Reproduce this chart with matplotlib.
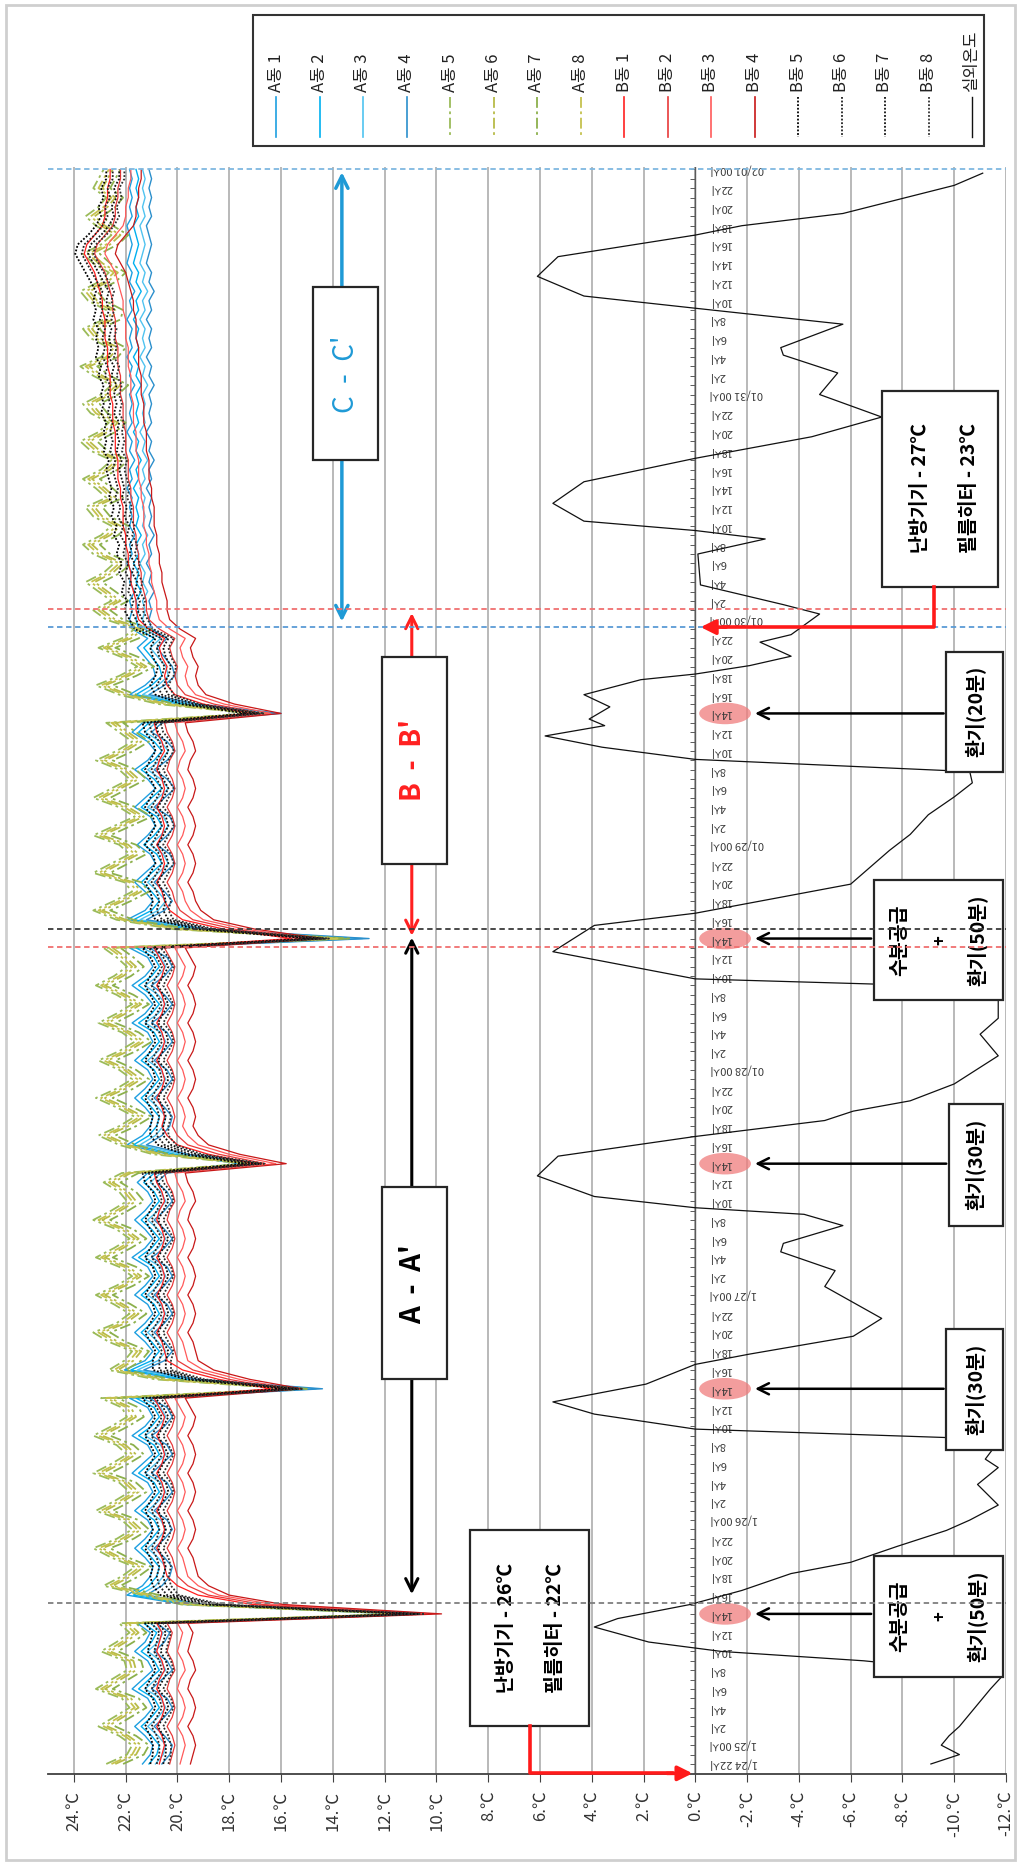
import matplotlib
matplotlib.use("Agg")
import matplotlib.pyplot as plt
from matplotlib.patches import Rectangle, Ellipse

plt.rcParams["font.family"] = ["Noto Sans CJK KR", "DejaVu Sans"]

# hours counted from 1/24 22시 (0) to 02/01 00시 (170)
hours = list(range(171))

# group profiles, hourly: 1/24 22-23시, one row per day (00..23시), 02/01 00시
a_blue = [
    21.0, 20.7,
    20.6, 20.9, 21.3, 20.9, 20.6, 20.8, 21.4, 21.0, 20.6, 20.8, 21.3, 20.9, 20.7, 21.2, 11.2, 19.4, 21.6, 21.0, 20.7, 20.6, 20.9, 21.3, 20.9, 20.6,
    20.8, 21.3, 20.9, 20.6, 20.8, 21.4, 21.0, 20.6, 20.8, 21.4, 20.9, 20.6, 20.8, 21.5, 14.8, 19.6, 21.7, 20.9, 20.6, 20.9, 21.3, 20.9, 20.6, 20.8,
    21.3, 20.9, 20.6, 20.8, 21.4, 20.9, 20.6, 20.9, 21.3, 20.9, 20.6, 20.8, 21.2, 20.8, 17.2, 20.0, 21.6, 21.0, 20.7, 20.6, 20.9, 21.3, 20.9, 20.6,
    20.8, 21.3, 20.9, 20.6, 20.8, 21.4, 20.9, 20.6, 20.9, 21.4, 20.9, 20.6, 20.8, 21.5, 13.0, 19.2, 21.6, 20.9, 20.6, 20.9, 21.3, 20.9, 20.5, 20.7,
    21.2, 20.8, 20.5, 20.7, 21.3, 20.9, 20.5, 20.8, 21.3, 20.8, 20.5, 20.8, 21.4, 21.0, 16.4, 19.6, 21.5, 20.9, 20.5, 20.6, 20.9, 21.2, 20.8, 21.4,
    21.5, 21.4, 21.5, 21.3, 21.5, 21.4, 21.6, 21.4, 21.5, 21.3, 21.5, 21.4, 21.5, 21.4, 21.6, 21.4, 21.5, 21.3, 21.5, 21.4, 21.6, 21.4, 21.5, 21.4,
    21.5, 21.3, 21.5, 21.4, 21.6, 21.4, 21.5, 21.4, 21.6, 21.4, 21.5, 21.3, 21.5, 21.4, 21.6, 21.5, 21.4, 21.5, 21.6, 21.4, 21.5, 21.4, 21.5, 21.4,
    21.5,
]
a_olive = [
    22.4, 21.6,
    21.4, 21.9, 22.7, 22.1, 21.5, 21.8, 22.8, 22.2, 21.6, 21.7, 22.6, 22.0, 21.5, 21.9, 11.0, 19.5, 21.0, 22.5, 21.8, 21.3, 22.2, 22.9, 22.0, 21.4,
    21.8, 22.8, 22.1, 21.5, 21.9, 22.9, 22.2, 21.6, 22.0, 22.9, 22.2, 21.6, 21.8, 22.6, 15.3, 20.5, 22.3, 21.7, 21.4, 22.3, 22.9, 22.0, 21.5, 22.1,
    22.8, 22.0, 21.4, 21.9, 22.8, 22.1, 21.5, 22.0, 22.9, 22.2, 21.6, 21.9, 22.5, 21.8, 17.0, 20.6, 21.9, 22.7, 21.9, 21.3, 22.0, 22.8, 22.0, 21.4,
    21.9, 22.7, 21.9, 21.3, 21.8, 22.7, 22.0, 21.4, 22.0, 22.8, 22.1, 21.6, 22.0, 22.5, 13.6, 19.8, 22.0, 22.9, 22.1, 21.4, 21.7, 22.9, 22.2, 21.5,
    21.9, 22.9, 22.1, 21.3, 21.9, 22.9, 22.2, 21.5, 21.9, 22.8, 22.0, 21.4, 21.9, 22.4, 16.8, 20.4, 21.9, 22.8, 21.9, 21.2, 21.8, 22.7, 21.8, 21.3,
    22.4, 22.9, 22.2, 22.7, 23.2, 22.5, 22.1, 22.9, 23.3, 22.6, 22.2, 22.9, 23.2, 22.4, 22.8, 23.3, 22.6, 22.2, 23.0, 23.4, 22.7, 22.3, 23.0, 23.3,
    22.6, 22.2, 22.9, 23.4, 22.6, 22.3, 23.0, 23.3, 22.5, 22.4, 23.1, 23.4, 22.7, 22.3, 22.9, 23.3, 22.6, 22.2, 22.8, 23.2, 22.7, 22.4, 22.9, 22.7,
    22.5,
]
b_red = [
    20.1, 20.0,
    19.9, 20.0, 20.2, 20.0, 19.9, 20.0, 20.2, 20.1, 19.9, 20.0, 20.2, 20.1, 20.0, 20.2, 10.4, 16.5, 18.6, 19.4, 19.8, 19.9, 20.0, 20.2, 20.0, 19.9,
    20.0, 20.2, 20.0, 19.9, 20.0, 20.2, 20.0, 19.9, 20.0, 20.2, 20.0, 19.9, 20.1, 20.3, 15.8, 17.8, 19.2, 19.8, 19.9, 20.0, 20.2, 20.0, 19.9, 20.0,
    20.2, 20.0, 19.9, 20.0, 20.2, 20.0, 19.9, 20.0, 20.2, 20.1, 19.9, 20.0, 20.2, 20.3, 16.4, 18.2, 19.4, 19.8, 20.0, 19.9, 20.0, 20.2, 20.0, 19.9,
    20.0, 20.2, 20.0, 19.9, 20.0, 20.2, 20.0, 19.9, 20.0, 20.2, 20.0, 19.9, 20.1, 20.3, 15.0, 17.6, 19.2, 19.7, 19.9, 20.0, 20.2, 20.0, 19.9, 20.0,
    20.2, 20.0, 19.9, 20.0, 20.2, 20.0, 19.9, 20.0, 20.2, 20.1, 19.9, 20.0, 20.2, 20.3, 16.6, 18.4, 19.5, 19.8, 19.9, 19.8, 20.0, 20.1, 19.9, 20.5,
    20.9, 21.0, 21.0, 21.1, 21.2, 21.2, 21.3, 21.3, 21.4, 21.4, 21.5, 21.5, 21.5, 21.6, 21.6, 21.7, 21.7, 21.7, 21.8, 21.8, 21.8, 21.9, 21.9, 21.9,
    22.0, 22.0, 22.0, 22.1, 22.1, 22.1, 22.2, 22.2, 22.2, 22.3, 22.3, 22.4, 22.5, 22.6, 22.8, 23.0, 22.9, 22.6, 22.3, 22.2, 22.2, 22.1, 22.1, 22.0,
    22.0,
]
b_black = [
    20.7, 20.6,
    20.6, 20.7, 20.9, 20.7, 20.5, 20.6, 20.9, 20.7, 20.5, 20.6, 20.8, 20.7, 20.6, 20.9, 10.8, 18.6, 20.3, 20.6, 20.7, 20.6, 20.7, 20.9, 20.7, 20.6,
    20.7, 20.9, 20.7, 20.5, 20.6, 20.9, 20.7, 20.5, 20.7, 20.9, 20.7, 20.5, 20.7, 21.0, 15.5, 19.3, 20.6, 20.6, 20.5, 20.7, 20.9, 20.7, 20.5, 20.6,
    20.9, 20.7, 20.5, 20.6, 20.9, 20.7, 20.5, 20.7, 20.9, 20.7, 20.5, 20.6, 20.9, 21.0, 17.0, 19.4, 20.4, 20.7, 20.7, 20.6, 20.7, 20.9, 20.7, 20.5,
    20.6, 20.9, 20.7, 20.5, 20.6, 20.9, 20.7, 20.5, 20.7, 20.9, 20.7, 20.5, 20.7, 21.0, 14.5, 18.9, 20.5, 20.7, 20.6, 20.7, 20.9, 20.7, 20.5, 20.6,
    20.9, 20.7, 20.5, 20.6, 20.9, 20.7, 20.5, 20.7, 20.9, 20.7, 20.5, 20.6, 20.9, 21.0, 17.0, 19.5, 20.5, 20.7, 20.5, 20.4, 20.6, 20.7, 20.5, 21.3,
    21.5, 21.7, 21.6, 21.8, 21.7, 21.9, 21.8, 22.0, 21.9, 22.1, 22.0, 22.2, 22.1, 22.3, 22.2, 22.3, 22.4, 22.3, 22.5, 22.4, 22.5, 22.4, 22.6, 22.5,
    22.6, 22.5, 22.7, 22.6, 22.8, 22.7, 22.8, 22.7, 22.9, 22.8, 22.9, 22.8, 23.0, 23.2, 23.4, 23.6, 23.5, 23.1, 22.8, 22.6, 22.7, 22.5, 22.6, 22.4,
    22.4,
]

# spread of the four sensors of each group around the group profile
a_blue_offsets = [0.35, 0.1, -0.15, -0.4]
a_olive_offsets = [0.35, 0.0, -0.3, 0.15]
b_red_offsets = [0.6, 0.2, -0.2, -0.6]
b_black_offsets = [0.35, 0.1, -0.15, -0.35]

# outdoor temperature (실외온도), read at its break points
outdoor_hours = [
    0, 1, 2, 3, 4, 6, 8, 9.5, 11, 12, 13, 14.6, 15.5, 17, 18.5, 20.3, 21.5, 23.2, 24.9, 26,
    27.6, 29.8, 31.6, 32.5, 33.6, 34.8, 35.7, 37.3, 38.6, 40.5, 42.6, 43.7, 45.6, 47.5, 49.2,
    50.9, 52.6, 54.6, 55.5, 57.4, 58.6, 59.3, 60.5, 62.7, 64.8, 66.9, 68.6, 69.6, 70.7, 72.5,
    75.5, 77.8, 79.5, 81.6, 82.9, 83.7, 86.6, 89.4, 90.7, 92.3, 93.8, 97.4, 99.1, 101.2, 103.1,
    104.6, 105.8, 107.1, 108.4, 109.6, 110.7, 111.4, 112.7, 114.0, 115.6, 116.2, 117.1, 118.1,
    119.6, 120.4, 122.6, 123.6, 125.7, 129.0, 130.6, 131.5, 132.5, 134.4, 136.7, 139.2, 141.5,
    143.6, 146.0, 148.3, 150.2, 151.0, 153.5, 155.2, 156.5, 158.6, 160.7, 163.0, 164.0, 165.3,
    168.3, 169.6,
]
outdoor_temp = [
    -9.1, -10.2, -9.5, -9.8, -10.2, -10.8, -11.4, -11.9, -6.5, -1.0, 1.8, 3.9, 3.0, 0.2, -1.8, -3.7, -6.0, -7.8, -9.7, -10.6,
    -11.7, -10.9, -11.7, -11.2, -11.5, -9.7, 0.0, 3.9, 5.5, 1.9, 0.0, -2.1, -6.1, -7.2, -6.1,
    -5.0, -5.4, -3.3, -3.4, -5.7, -4.2, 0.0, 3.9, 6.1, 5.3, 0.0, -5.0, -6.1, -8.3, -10.0,
    -11.7, -11.0, -11.7, -11.7, -10.0, 0.0, 5.5, 3.9, 0.0, -3.1, -6.0, -7.5, -8.3, -9.0, -10.0,
    -10.7, -10.6, 0.0, 3.6, 5.8, 3.5, 4.1, 3.3, 4.3, 2.1, 0.0, -2.1, -3.7,
    -2.5, -3.7, -4.8, -3.4, -0.2, -0.1, -2.7, 0.0, 4.3, 5.5, 4.3, 0.0, -4.5,
    -7.2, -4.8, -5.5, -3.4, -3.3, -5.7, 0.0, 4.3, 6.1, 5.3, 0.0, -1.8, -5.7,
    -10.0, -11.1,
]

temp_ticks = list(range(-12, 25, 2))
date_labels = {0: "1/24 22시", 2: "1/25 00시", 26: "1/26 00시", 50: "1/27 00시", 74: "01/28 00시",
               98: "01/29 00시", 122: "01/30 00시", 146: "01/31 00시", 170: "02/01 00시"}
event_hours = [16, 40, 64, 88, 112]

legend_names = ["A동 1", "A동 2", "A동 3", "A동 4", "A동 5", "A동 6", "A동 7", "A동 8",
                "B동 1", "B동 2", "B동 3", "B동 4", "B동 5", "B동 6", "B동 7", "B동 8", "실외온도"]

blue_colors = ["#1E9FE0", "#00B0F0", "#4FC3F0", "#2B8FCC"]
olive_colors = ["#9BBB59", "#B8BB48", "#8CB04C", "#C5C24E"]
red_colors = ["#FF2020", "#E83A3A", "#FF5A5A", "#C81818"]
black_colors = ["#000000", "#202020", "#101010", "#303030"]
DASHDOT = (0, (6, 2, 1.5, 2))
DOTTED = (0, (1, 1))

groups = [
    (a_blue, a_blue_offsets, blue_colors, "-", 1.0),
    (a_olive, a_olive_offsets, olive_colors, DASHDOT, 1.3),
    (b_red, b_red_offsets, red_colors, "-", 0.9),
    (b_black, b_black_offsets, black_colors, DOTTED, 1.3),
]

W, H = 1022, 1864
fig = plt.figure(figsize=(W / 100, H / 100), dpi=100)

# pixel overlay for frame and legend
over = fig.add_axes([0, 0, 1, 1])
over.set_xlim(0, W)
over.set_ylim(H, 0)
over.axis("off")
over.add_patch(Rectangle((6, 5), 1009, 1855, fill=False, ec="#CFCFCF", lw=2))

ax = fig.add_axes([48 / W, 1 - 1774 / H, (1006 - 48) / W, (1774 - 166.6) / H])
ax.set_xlim(25, -12)
ax.set_ylim(-1.07, 170.3)
ax.patch.set_alpha(0)
for s in ["top", "left", "right"]:
    ax.spines[s].set_visible(False)
ax.spines["bottom"].set_color("#404040")
ax.spines["bottom"].set_linewidth(1.3)

ax.set_xticks(temp_ticks)
ax.set_xticklabels([f"{v}.℃" for v in temp_ticks], rotation=90, fontsize=12, color="#333333")
ax.tick_params(axis="x", length=6, color="#404040", pad=6)
ax.set_yticks([])
for v in temp_ticks:
    ax.axvline(v, color="#A6A6A6", lw=1.1, zorder=0.5)

# time axis crossing at 0℃
ax.axvline(0, color="#5A5A5A", lw=1.0, zorder=1)
ax.hlines(hours, 0, 0.22, color="#5A5A5A", lw=0.7, zorder=1)
for t in hours[::2]:
    lab = date_labels.get(t, f"{(22 + t) % 24}시")
    ax.text(-0.55, t, lab, rotation=180, ha="left", va="center", fontsize=8,
            color="#3A3A3A", zorder=2)
for t in event_hours:
    ax.add_patch(Ellipse((-1.15, t), 2.0, 2.3, color="#F07C7C", alpha=0.75, lw=0, zorder=1.5))

# series
for base, offs, colors, ls, lw in groups:
    for off, col in zip(offs, colors):
        ax.plot([v + off for v in base], hours, color=col, ls=ls, lw=lw, zorder=3)
ax.plot(outdoor_temp, outdoor_hours, color="#111111", lw=0.9, zorder=3)

# period divider lines
ax.axhline(17.2, color="#7F7F7F", ls=(0, (3, 2)), lw=1.3, zorder=6)
ax.axhline(89.0, color="#3A3A3A", ls=(0, (3, 2)), lw=1.3, zorder=6)
ax.axhline(87.1, color="#F07070", ls=(0, (3, 2)), lw=1.3, zorder=6)
ax.axhline(123.1, color="#F07070", ls=(0, (3, 2)), lw=1.3, zorder=6)
ax.axhline(121.2, color="#5B9BD5", ls=(0, (3, 2)), lw=1.3, zorder=6)
ax.axhline(170.0, color="#7FB8E0", ls=(0, (3, 2)), lw=1.3, zorder=6)


def box(T0, T1, t0, t1, z=5):
    ax.add_patch(Rectangle((min(T0, T1), t0), abs(T1 - T0), t1 - t0,
                           fc="white", ec="#262626", lw=1.6, zorder=z))


def label(T, t, s, size=14, color="black", weight="bold", z=5.5):
    ax.text(T, t, s, rotation=90, ha="center", va="center", fontsize=size,
            color=color, fontweight=weight, zorder=z)


# A - A', B - B', C - C' periods
ax.annotate("", xy=(10.95, 17.8), xytext=(10.95, 88.4), zorder=4,
            arrowprops=dict(arrowstyle="<->", color="black", lw=2.2, mutation_scale=22))
box(12.1, 9.6, 41.0, 61.5)
label(10.9, 51.2, "A  -  A'", size=20)

ax.annotate("", xy=(10.95, 88.0), xytext=(10.95, 123.0), zorder=4,
            arrowprops=dict(arrowstyle="<->", color="#FF2020", lw=2.2, mutation_scale=22))
box(12.1, 9.6, 96.0, 118.0)
label(10.9, 107.0, "B  -  B'", size=20, color="#FF2020")

ax.annotate("", xy=(13.65, 121.5), xytext=(13.65, 170.0), zorder=4,
            arrowprops=dict(arrowstyle="<->", color="#1F9AD6", lw=2.5, mutation_scale=22))
box(14.77, 12.26, 139.0, 157.5)
label(13.5, 148.2, "C  -  C'", size=20, color="#1F9AD6", weight="normal")

# heater settings
box(8.7, 4.1, 4.0, 24.9)
label(7.3, 14.5, "난방기기 - 26℃")
label(5.4, 14.5, "필름히터 - 22℃")
ax.plot([6.4, 6.4, 0.9], [4.0, -1.0, -1.0], color="#FF1A1A", lw=2.6, zorder=7, clip_on=False)
ax.annotate("", xy=(0.0, -1.0), xytext=(1.2, -1.0), annotation_clip=False, zorder=7,
            arrowprops=dict(arrowstyle="-|>", color="#FF1A1A", lw=2.6, mutation_scale=22))

box(-7.2, -11.7, 125.5, 146.4)
label(-8.7, 136.0, "난방기기 - 27℃")
label(-10.6, 136.0, "필름히터 - 23℃")
ax.plot([-9.2, -9.2, -1.1], [125.5, 121.2, 121.2], color="#FF1A1A", lw=2.6, zorder=7)
ax.annotate("", xy=(-0.1, 121.2), xytext=(-1.3, 121.2), zorder=7,
            arrowprops=dict(arrowstyle="-|>", color="#FF1A1A", lw=2.6, mutation_scale=22))

# ventilation / water supply events
events = [
    (16, -6.9, 9.3, 22.2, ["수분공급", "+", "환기(50분)"]),
    (40, -9.7, 33.5, 46.4, ["환기(30분)"]),
    (64, -9.8, 57.4, 70.4, ["환기(30분)"]),
    (88, -6.9, 81.4, 94.2, ["수분공급", "+", "환기(50분)"]),
    (112, -9.7, 105.8, 118.6, ["환기(20분)"]),
]
for t_ev, T_left, t0, t1, lines in events:
    box(T_left, -11.9, t0, t1)
    if len(lines) == 3:
        label(-7.9, (t0 + t1) / 2, lines[0])
        label(-9.45, (t0 + t1) / 2, lines[1], size=12)
        label(-10.9, (t0 + t1) / 2, lines[2])
    else:
        label(-10.8, (t0 + t1) / 2, lines[0])
    ax.annotate("", xy=(-2.2, t_ev), xytext=(T_left, t_ev), zorder=5,
                arrowprops=dict(arrowstyle="->", color="black", lw=1.8, mutation_scale=20))

# legend
over.add_patch(Rectangle((253, 15), 731, 131, fc="white", ec="#333333", lw=1.5))
leg_styles = ([(c, "-", 1.2) for c in blue_colors] + [(c, DASHDOT, 1.3) for c in olive_colors]
              + [(c, "-", 1.2) for c in red_colors] + [(c, DOTTED, 1.3) for c in black_colors]
              + [("#111111", "-", 1.0)])
for i, (name, (col, ls, lw)) in enumerate(zip(legend_names, leg_styles)):
    x = 276 + 43.5 * i
    over.plot([x, x], [97, 137], color=col, ls=ls, lw=lw)
    over.text(x, 92, name, rotation=90, ha="center", va="bottom", fontsize=12, color="#222222")

fig.savefig("out.png", dpi=100)
